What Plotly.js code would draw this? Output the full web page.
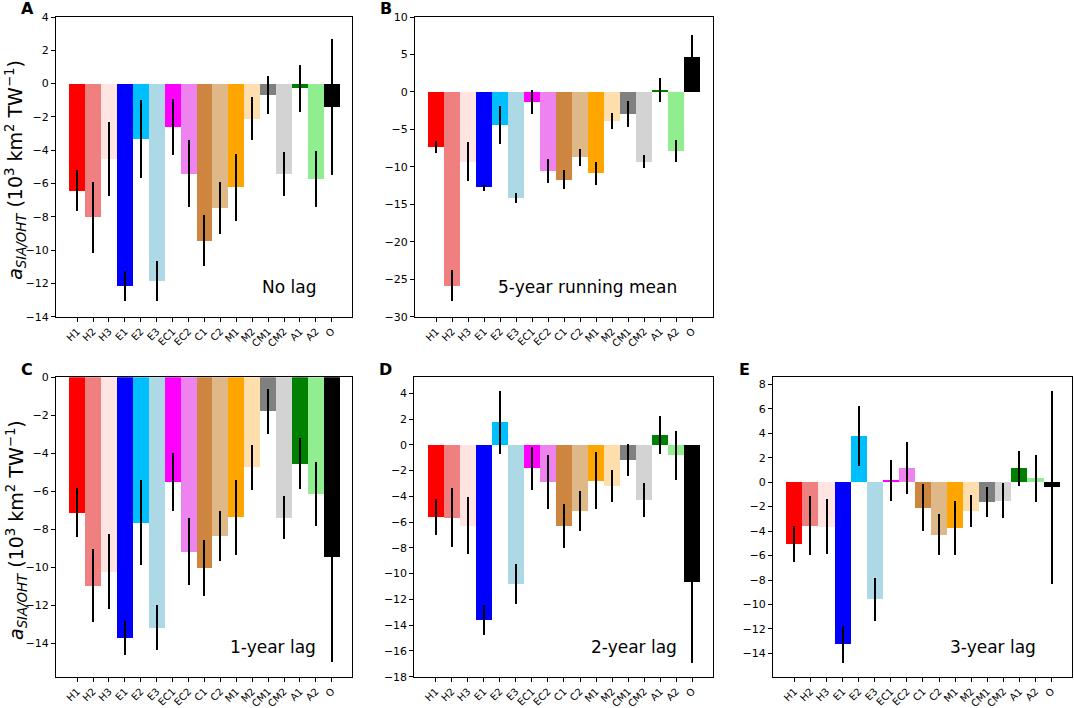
<!DOCTYPE html>
<html>
<head>
<meta charset="utf-8">
<script src="https://cdn.plot.ly/plotly-3.0.1.min.js"></script>
<style>
  html, body { margin: 0; padding: 0; background: #fff; }
  #chart { width: 1074px; height: 708px; }
</style>
</head>
<body>
<div id="chart"></div>
<script>
const categories = ["H1", "H2", "H3", "E1", "E2", "E3", "EC1", "EC2", "C1", "C2", "M1", "M2", "CM1", "CM2", "A1", "A2", "O"];

const noLag = [-6.43, -8.03, -4.55, -12.16, -3.34, -11.86, -2.60, -5.41, -9.43, -7.47, -6.23, -2.10, -0.68, -5.43, -0.28, -5.73, -1.40];
const noLagErr = [1.25, 2.13, 2.23, 0.88, 2.33, 1.20, 1.66, 2.00, 1.55, 1.56, 2.00, 1.31, 1.16, 1.30, 1.42, 1.69, 4.10];

const runMean5 = [-7.33, -25.86, -9.29, -12.72, -4.39, -14.14, -1.40, -10.53, -11.74, -8.75, -10.85, -3.85, -2.92, -9.29, 0.29, -7.86, 4.61];
const runMean5Err = [0.82, 2.10, 2.65, 0.47, 2.56, 0.62, 1.60, 1.63, 1.27, 1.14, 1.53, 1.05, 1.74, 0.92, 1.60, 1.50, 3.03];

const lag1 = [-7.12, -10.96, -10.23, -13.74, -7.65, -13.18, -5.51, -9.18, -10.04, -8.35, -7.37, -4.74, -1.79, -7.40, -4.56, -6.16, -9.47];
const lag1Err = [1.31, 1.93, 1.98, 0.90, 2.24, 1.19, 1.54, 1.76, 1.49, 1.33, 1.98, 1.19, 1.18, 1.13, 1.34, 1.68, 5.49];

const lag2 = [-5.58, -5.65, -6.27, -13.60, 1.75, -10.83, -1.82, -2.88, -6.30, -5.11, -2.78, -3.20, -1.18, -4.28, 0.79, -0.82, -10.64];
const lag2Err = [1.40, 2.30, 2.19, 1.20, 2.45, 1.55, 1.68, 2.07, 1.72, 1.55, 2.20, 1.24, 1.21, 1.33, 1.47, 1.90, 6.26];

const lag3 = [-5.06, -3.56, -3.64, -13.26, 3.78, -9.58, 0.15, 1.19, -2.09, -4.28, -3.75, -2.33, -1.62, -1.51, 1.13, 0.31, -0.42];
const lag3Err = [1.46, 2.40, 2.26, 1.50, 2.47, 1.74, 1.70, 2.12, 1.92, 1.64, 2.17, 1.32, 1.20, 1.42, 1.43, 1.92, 7.90];

const barColors = ["red", "lightcoral", "mistyrose", "blue", "deepskyblue", "lightblue", "magenta", "violet",
  "peru", "burlywood", "orange", "navajowhite", "gray", "lightgray", "green", "lightgreen", "black"];

const W = 1074, H = 708;

// pixel boxes of each panel, measured on the reference
const panels = [
  { vals: noLag, errs: noLagErr, label: "No lag", letter: "A", box: [56, 352, 17, 316.7], range: [-14, 4], dtick: 2, ylabel: true },
  { vals: runMean5, errs: runMean5Err, label: "5-year running mean", letter: "B", box: [415, 712.5, 17, 316.7], range: [-30, 10], dtick: 5 },
  { vals: lag1, errs: lag1Err, label: "1-year lag", letter: "C", box: [56, 352, 377.3, 676.7], range: [-15.76, 0], dtick: 2, ylabel: true },
  { vals: lag2, errs: lag2Err, label: "2-year lag", letter: "D", box: [414.3, 712.7, 377.3, 676.7], range: [-18, 5.24], dtick: 2 },
  { vals: lag3, errs: lag3Err, label: "3-year lag", letter: "E", box: [773, 1072, 377.3, 676.7], range: [-15.9, 8.57], dtick: 2 },
];

const yTitle = "<i>a<sub>SIA/OHT</sub></i> (10<sup>3</sup> km<sup>2</sup> TW<sup>−1</sup>)";

const traces = [];
const layout = {
  width: W,
  height: H,
  margin: { l: 0, r: 0, t: 0, b: 0 },
  paper_bgcolor: "#fff",
  plot_bgcolor: "#fff",
  showlegend: false,
  bargap: 0,
  font: { family: "DejaVu Sans, sans-serif", color: "#000", size: 11 },
  annotations: [],
};

panels.forEach((p, i) => {
  const n = i === 0 ? "" : String(i + 1);
  const [x0, x1, y0, y1] = p.box;

  traces.push({
    type: "bar",
    x: categories,
    y: p.vals,
    xaxis: "x" + n,
    yaxis: "y" + n,
    width: 1,
    marker: { color: barColors, line: { width: 0 } },
    error_y: { type: "data", array: p.errs, visible: true, color: "#000", thickness: 2, width: 0 },
    hoverinfo: "x+y",
  });

  layout["xaxis" + n] = {
    domain: [x0 / W, x1 / W],
    anchor: "y" + n,
    type: "category",
    range: [-1.33, 17.27],
    showline: true,
    mirror: true,
    linecolor: "#000",
    linewidth: 1,
    ticks: "outside",
    ticklen: 4,
    tickcolor: "#000",
    tickangle: -45,
    tickfont: { size: 10 },
    showgrid: false,
    zeroline: false,
  };

  layout["yaxis" + n] = {
    domain: [1 - y1 / H, 1 - y0 / H],
    anchor: "x" + n,
    range: p.range,
    dtick: p.dtick,
    tick0: 0,
    showline: true,
    mirror: true,
    linecolor: "#000",
    linewidth: 1,
    ticks: "outside",
    ticklen: 4,
    tickcolor: "#000",
    tickfont: { size: 11 },
    showgrid: false,
    zeroline: false,
  };

  layout.annotations.push({
    text: "<b>" + p.letter + "</b>",
    xref: "paper", yref: "paper",
    x: (x0 - 29) / W, y: 1 - (y0 - 8) / H,
    xanchor: "center", yanchor: "middle",
    showarrow: false,
    font: { size: 16 },
  });

  layout.annotations.push({
    text: p.label,
    xref: "paper", yref: "paper",
    x: (x1 - 34) / W, y: 1 - (y1 - 29.5) / H,
    xanchor: "right", yanchor: "middle",
    showarrow: false,
    font: { size: 17 },
  });

  if (p.ylabel) {
    layout.annotations.push({
      text: yTitle,
      xref: "paper", yref: "paper",
      x: 16 / W, y: 1 - ((y0 + y1) / 2 + 3) / H,
      xanchor: "center", yanchor: "middle",
      textangle: -90,
      showarrow: false,
      font: { size: 19 },
    });
  }
});

Plotly.newPlot("chart", traces, layout, { displayModeBar: false, staticPlot: true });
</script>
</body>
</html>
